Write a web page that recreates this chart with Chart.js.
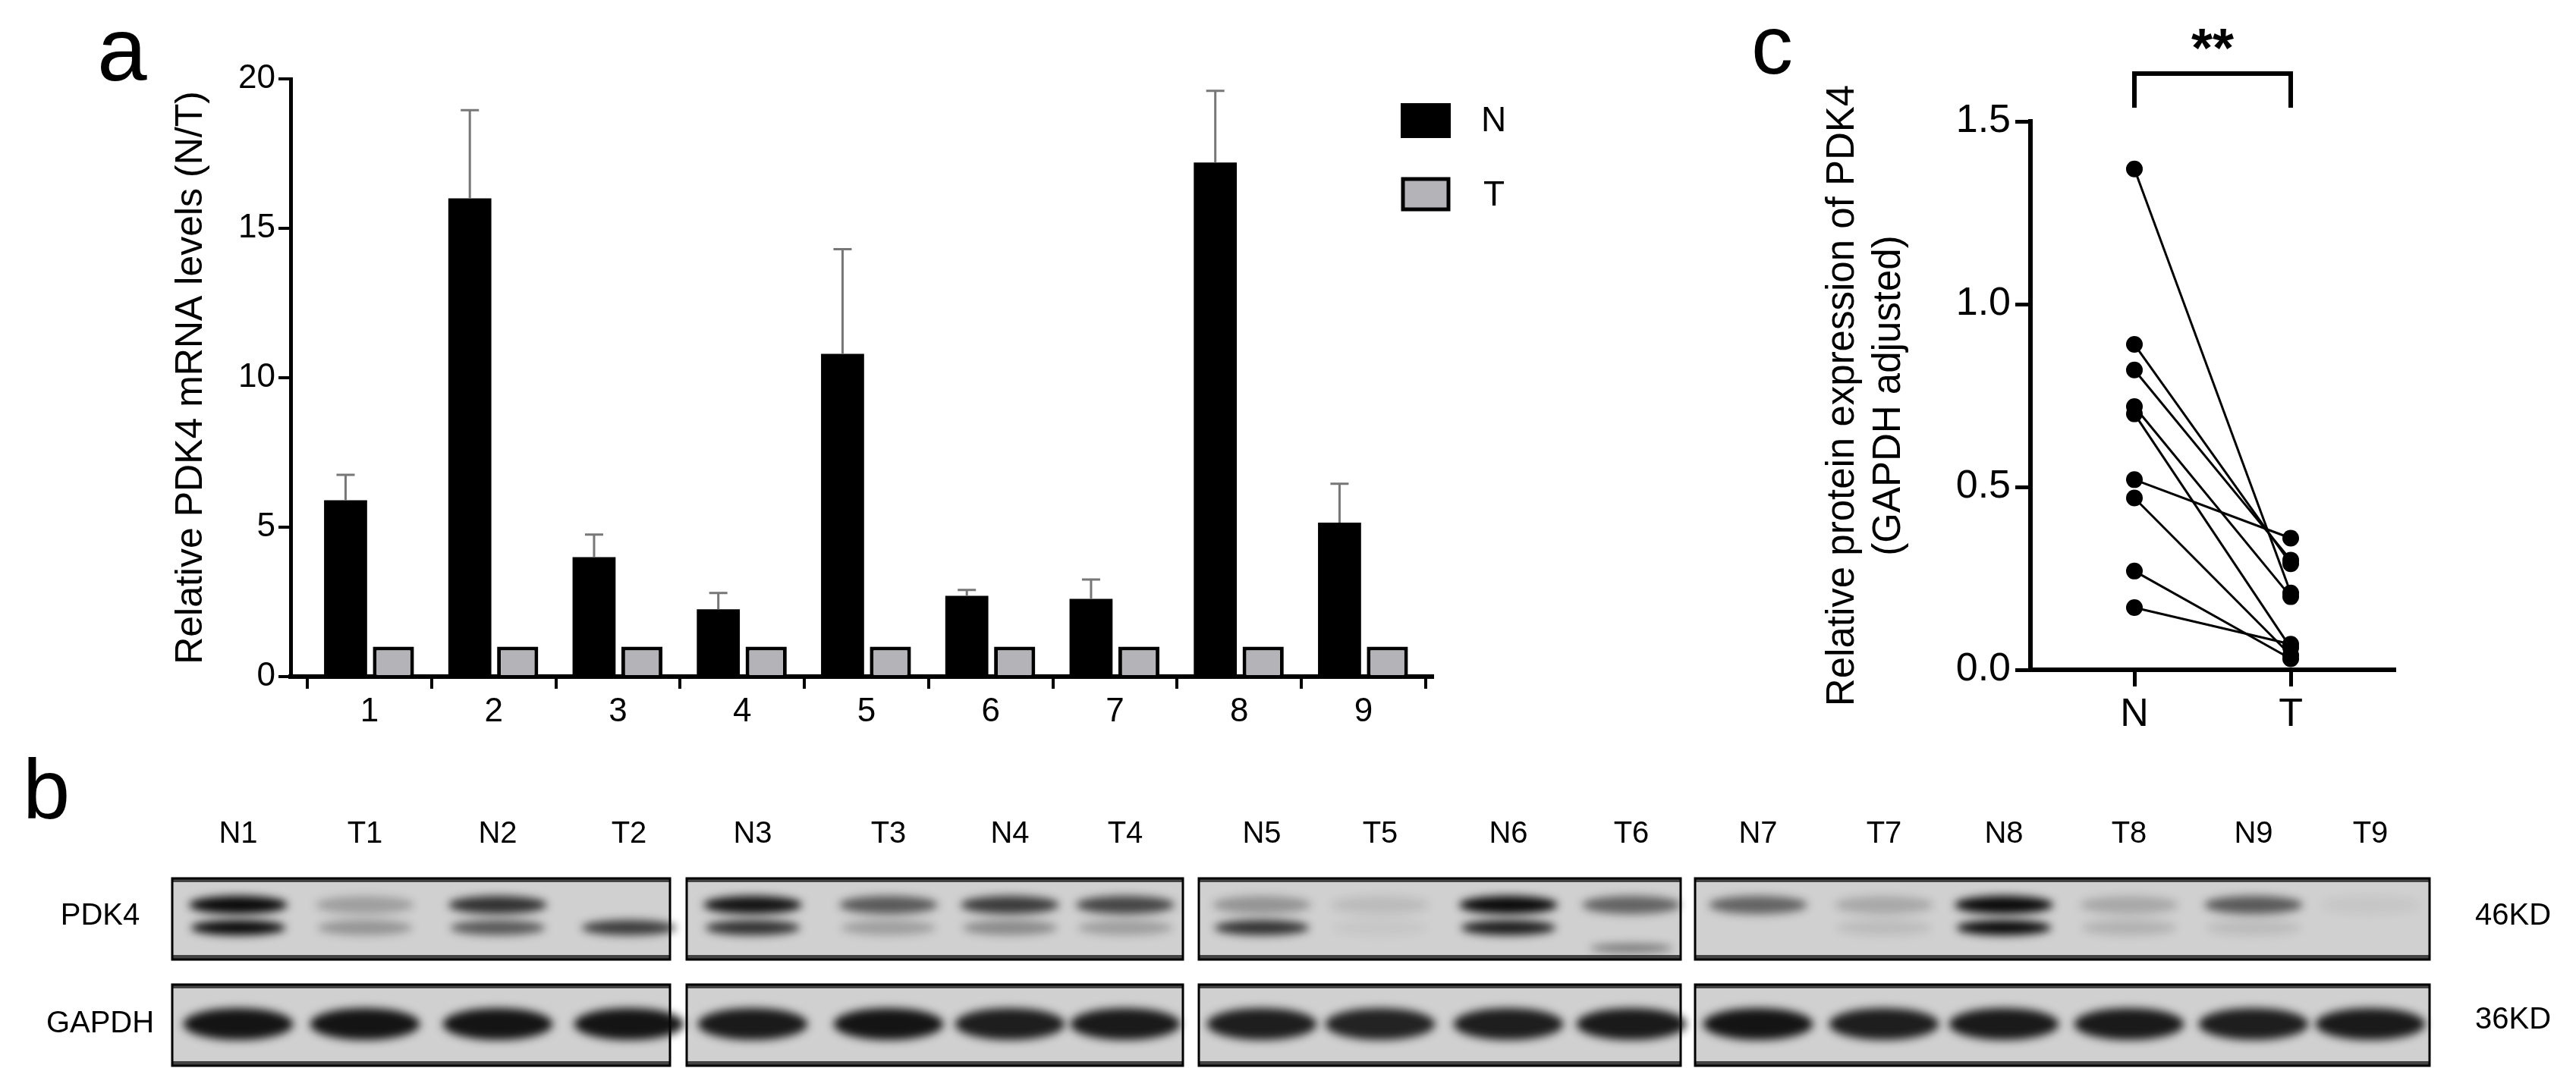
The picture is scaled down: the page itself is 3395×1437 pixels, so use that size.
<!DOCTYPE html>
<html>
<head>
<meta charset="utf-8">
<script src="https://cdn.jsdelivr.net/npm/chart.js@4.4.1/dist/chart.umd.min.js"></script>
<style>
  body { margin:0; width:3395px; height:1437px; background:#fff; position:relative; overflow:hidden; font-family:"Liberation Sans", Arial, sans-serif; }
  canvas { position:absolute; }
  .lt { position:absolute; color:#000; line-height:1; }
</style>
</head>
<body>
<div class="lt" style="left:128px;top:6px;font-size:118px;">a</div>
<div class="lt" style="left:2308px;top:4px;font-size:110px;">c</div>
<div class="lt" style="left:30px;top:985px;font-size:112px;">b</div>
<canvas id="chartA" width="2100" height="1000" style="left:0;top:0;width:2100px;height:1000px"></canvas>
<canvas id="chartC" width="1095" height="1000" style="left:2300px;top:0;width:1095px;height:1000px"></canvas>
<canvas id="blot" width="3395" height="437" style="left:0;top:1000px;width:3395px;height:437px"></canvas>
<script>
// panneau a : ARNm relatif
const categories = ['1','2','3','4','5','6','7','8','9'];
const valeursN = [5.9, 16.0, 4.0, 2.25, 10.8, 2.7, 2.6, 17.2, 5.15];
const erreursN = [6.75, 18.95, 4.75, 2.8, 14.3, 2.9, 3.25, 19.6, 6.45]; // haut des barres d'erreur
const valeursT = [1, 1, 1, 1, 1, 1, 1, 1, 1];
const ticksA = [0, 5, 10, 15, 20];

// panneau c : protéine (paires N -> T)
const proteineN = [1.37, 0.89, 0.82, 0.72, 0.70, 0.52, 0.47, 0.27, 0.17];
const proteineT = [0.21, 0.29, 0.30, 0.20, 0.06, 0.36, 0.04, 0.03, 0.07];
const groupesC = ['N', 'T'];
const ticksC = [0, 0.5, 1.0, 1.5];

// panneau b : blot (intensités 0..1)
const pistes = ['N1','T1','N2','T2','N3','T3','N4','T4','N5','T5','N6','T6','N7','T7','N8','T8','N9','T9'];
const pdk4Haut = [1, .25, .8, 0, .95, .6, .75, .7, .3, .1, 1, .55, .55, .2, 1, .2, .6, .05];
const pdk4Bas  = [1, .3, .6, .75, .8, .25, .35, .25, .8, .05, .9, 0, 0, .1, 1, .15, .1, 0];
const gapdh    = [.95, .95, .95, .95, .92, .95, .9, .92, .9, .88, .9, .92, .95, .9, .92, .92, .9, .92];

const FONT = '"Liberation Sans", Arial, sans-serif';
Chart.defaults.font.family = FONT;
Chart.defaults.color = '#000';

// barres d'erreur (seulement vers le haut)
const errorBars = {
  id: 'errorBars',
  afterDatasetsDraw(chart) {
    const ctx = chart.ctx, y = chart.scales.y;
    chart.getDatasetMeta(0).data.forEach((bar, i) => {
      const top = y.getPixelForValue(erreursN[i]);
      ctx.save();
      ctx.strokeStyle = '#777'; ctx.lineWidth = 3;
      ctx.beginPath();
      ctx.moveTo(bar.x, bar.y); ctx.lineTo(bar.x, top);
      ctx.moveTo(bar.x - 12, top); ctx.lineTo(bar.x + 12, top);
      ctx.stroke();
      ctx.restore();
    });
  }
};

// légende manuelle N / T
const legendA = {
  id: 'legendA',
  afterDraw(chart) {
    const ctx = chart.ctx;
    ctx.save();
    ctx.fillStyle = '#000'; ctx.fillRect(1846, 136, 66, 46);
    ctx.fillStyle = '#b4b4b8'; ctx.fillRect(1849, 236, 60, 40);
    ctx.strokeStyle = '#000'; ctx.lineWidth = 5; ctx.strokeRect(1849, 236, 60, 40);
    ctx.fillStyle = '#000'; ctx.font = '46px ' + FONT; ctx.textBaseline = 'middle';
    ctx.fillText('N', 1952, 160); ctx.fillText('T', 1955, 258);
    ctx.restore();
  }
};

new Chart(document.getElementById('chartA'), {
  type: 'bar',
  data: {
    datasets: [
      { label:'N', data: valeursN.map((v,i)=>({x:i+1, y:v})), backgroundColor:'#000', borderColor:'#000', borderWidth:0,
        categoryPercentage:0.77, barPercentage:0.9 },
      { label:'T', data: valeursT.map((v,i)=>({x:i+1, y:v})), backgroundColor:'#b4b4b8', borderColor:'#000', borderWidth:5,
        categoryPercentage:0.77, barPercentage:0.86 }
    ]
  },
  options: {
    responsive:false, animation:false, devicePixelRatio:1,
    layout:{ padding:{ top:104, right:212, left:222, bottom:0 } },
    plugins:{ legend:{display:false}, tooltip:{enabled:false} },
    scales:{
      x:{ type:'linear', min:0.365, max:9.556, offset:false,
        afterBuildTicks: s => { s.ticks = categories.map((_,i)=>({value:i+1})); },
        afterFit: s => { s.height = 108; },
        grid:{ display:true, drawOnChartArea:false, drawTicks:true, tickLength:16, color:'#000', lineWidth:4 },
        border:{ color:'#000', width:6 },
        ticks:{ font:{size:44}, color:'#000', padding:4, autoSkip:false, maxRotation:0, callback: v => categories[v-1] } },
      y:{ min:0, max:20,
        afterBuildTicks: s => { s.ticks = ticksA.map(v=>({value:v})); },
        afterFit: s => { s.width = 161; },
        grid:{ display:true, drawOnChartArea:false, drawTicks:true, tickLength:16, color:'#000', lineWidth:4 },
        border:{ color:'#000', width:5 },
        ticks:{ font:{size:44}, color:'#000', padding:4 },
        title:{ display:true, text:'Relative PDK4 mRNA levels (N/T)', font:{size:50}, color:'#000', padding:0 } }
    }
  },
  plugins:[errorBars, legendA]
});

// crochet de significativité
const bracket = {
  id: 'bracket',
  afterDraw(chart) {
    const ctx = chart.ctx, x = chart.scales.x;
    const xN = x.getPixelForValue(0), xT = x.getPixelForValue(1);
    ctx.save();
    ctx.strokeStyle = '#000'; ctx.lineWidth = 6;
    ctx.beginPath();
    ctx.moveTo(xN, 142); ctx.lineTo(xN, 97); ctx.lineTo(xT, 97); ctx.lineTo(xT, 142);
    ctx.stroke();
    ctx.fillStyle = '#000'; ctx.font = 'bold 72px ' + FONT; ctx.textAlign = 'center'; ctx.textBaseline = 'middle';
    ctx.fillText('**', (xN + xT) / 2, 68);
    ctx.restore();
  }
};

new Chart(document.getElementById('chartC'), {
  type: 'line',
  data: {
    datasets: proteineN.map((n,i)=>({
      data:[{x:0,y:n},{x:1,y:proteineT[i]}],
      borderColor:'#000', backgroundColor:'#000', borderWidth:3,
      pointRadius:11, pointBackgroundColor:'#000', pointBorderWidth:0, fill:false
    }))
  },
  options: {
    responsive:false, animation:false, devicePixelRatio:1,
    layout:{ padding:{ top:160, right:240, left:98, bottom:0 } },
    plugins:{ legend:{display:false}, tooltip:{enabled:false} },
    scales:{
      x:{ type:'linear', min:-0.665, max:1.66,
        afterBuildTicks: s => { s.ticks = groupesC.map((_,i)=>({value:i})); },
        afterFit: s => { s.height = 117; },
        grid:{ display:true, drawOnChartArea:false, drawTicks:true, tickLength:22, color:'#000', lineWidth:5 },
        border:{ color:'#000', width:6 },
        ticks:{ font:{size:52}, color:'#000', padding:6, callback: v => groupesC[v] } },
      y:{ min:0, max:1.5,
        afterBuildTicks: s => { s.ticks = ticksC.map(v=>({value:v})); },
        afterFit: s => { s.width = 278; },
        grid:{ display:true, drawOnChartArea:false, drawTicks:true, tickLength:20, color:'#000', lineWidth:5 },
        border:{ color:'#000', width:6 },
        ticks:{ font:{size:52}, color:'#000', padding:6, callback: v => v.toFixed(1) },
        title:{ display:true, text:['Relative protein expression of PDK4','(GAPDH adjusted)'], font:{size:51, lineHeight:1.2}, color:'#000', padding:0 } }
    }
  },
  plugins:[bracket]
});

// panneau b : dessin simple du blot
(function dessinerBlot() {
  const c = document.getElementById('blot'), ctx = c.getContext('2d');
  const xPistes = [314,481,656,829,992,1171,1331,1483,1663,1819,1988,2150,2317,2483,2641,2806,2970,3124];
  const boites = [[227,883],[905,1559],[1580,2215],[2234,3202]];
  ctx.fillStyle = '#000'; ctx.font = '40px ' + FONT; ctx.textAlign = 'center'; ctx.textBaseline = 'middle';
  pistes.forEach((p,i) => ctx.fillText(p, xPistes[i], 100));
  ctx.fillText('PDK4', 132, 208); ctx.fillText('GAPDH', 132, 350);
  ctx.fillText('46KD', 3312, 208); ctx.fillText('36KD', 3312, 345);

  function boite(x0, x1, y0, y1) {
    ctx.fillStyle = '#d0d0d0'; ctx.fillRect(x0, y0, x1-x0, y1-y0);
    ctx.fillStyle = '#444'; ctx.fillRect(x0, y0, x1-x0, 5); ctx.fillRect(x0, y1-6, x1-x0, 6);
    ctx.strokeStyle = '#000'; ctx.lineWidth = 3; ctx.strokeRect(x0, y0, x1-x0, y1-y0);
  }
  function bande(x, y, w, h, a) {
    if (a <= 0) return;
    ctx.save();
    ctx.filter = 'blur(6px)';
    ctx.fillStyle = 'rgba(10,10,10,' + a + ')';
    ctx.beginPath(); ctx.ellipse(x, y, w/2, h/2, 0, 0, Math.PI*2); ctx.fill();
    ctx.restore();
  }
  boites.forEach(([x0,x1]) => boite(x0, x1, 158, 265));
  xPistes.forEach((x,i) => { bande(x, 193, 130, 24, pdk4Haut[i]); bande(x, 223, 125, 20, pdk4Bas[i]); });
  bande(xPistes[11], 250, 110, 12, 0.45);
  boites.forEach(([x0,x1]) => boite(x0, x1, 298, 405));
  xPistes.forEach((x,i) => bande(x, 350, 145, 42, gapdh[i]));
})();
</script>
</body>
</html>
